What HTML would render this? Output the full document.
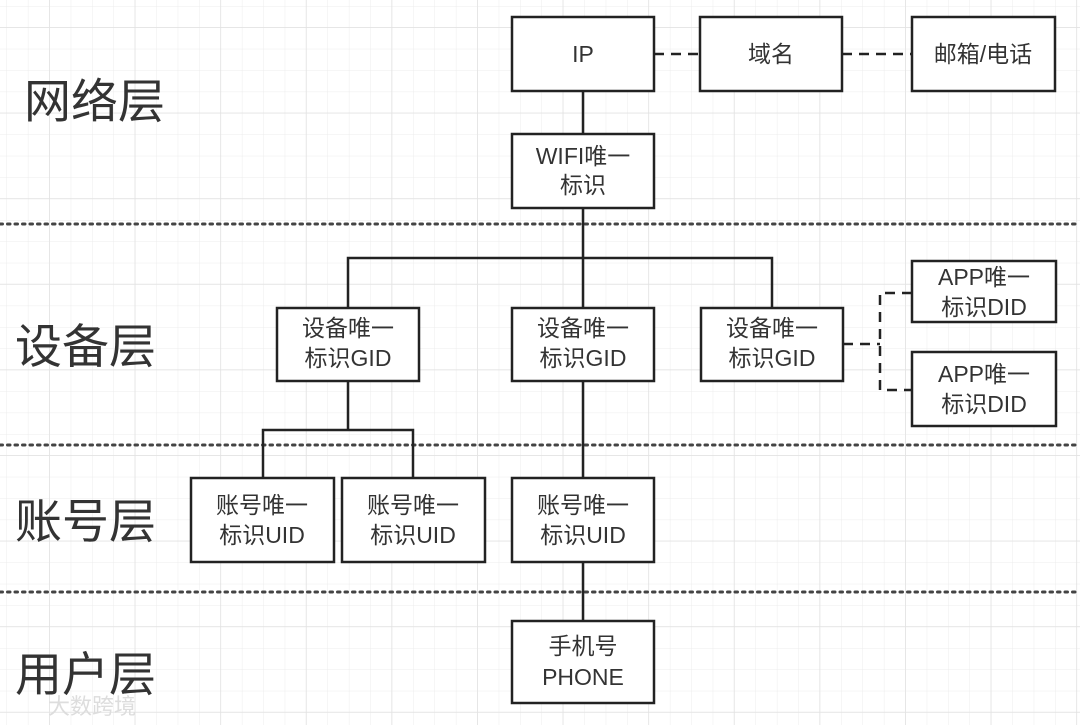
<!DOCTYPE html>
<html><head><meta charset="utf-8"><style>
html,body{margin:0;padding:0;background:#fff}
svg{display:block}
text{font-family:"Liberation Sans","Noto Sans CJK SC",sans-serif;fill:#333}
</style></head><body>
<svg width="1080" height="725" viewBox="0 0 1080 725" xmlns="http://www.w3.org/2000/svg">
<defs>
<pattern id="minor" x="6.5" y="6" width="21.4" height="21.4" patternUnits="userSpaceOnUse">
<path d="M0 0H21.4M0 0V21.4" stroke="#ececec" stroke-width="1" fill="none"/>
</pattern>
<pattern id="major" x="49" y="27" width="85.6" height="85.6" patternUnits="userSpaceOnUse">
<path d="M0 0H85.6M0 0V85.6" stroke="#e2e2e2" stroke-width="1.5" fill="none"/>
</pattern>
</defs>
<rect width="1080" height="725" fill="#fff"/>
<rect width="1080" height="725" fill="url(#minor)"/>
<rect width="1080" height="725" fill="url(#major)"/>

<g stroke="#444" stroke-width="3" stroke-dasharray="2.5 5" stroke-linecap="round">
<line x1="0" y1="224" x2="1080" y2="224"/>
<line x1="0" y1="445" x2="1080" y2="445"/>
<line x1="0" y1="592" x2="1080" y2="592"/>
</g>

<g font-size="47">
<text x="24" y="118">网络层</text>
<text x="15" y="363">设备层</text>
<text x="15" y="538">账号层</text>
<text x="15" y="691">用户层</text>
</g>
<text x="48" y="714" font-size="22" style="fill:#ddd">大数跨境</text>

<g stroke="#222" stroke-width="2.5" fill="none">
<line x1="583" y1="91" x2="583" y2="134"/>
<polyline points="583,208 583,258"/>
<polyline points="348,308 348,258 772,258 772,308"/>
<line x1="583" y1="258" x2="583" y2="308"/>
<polyline points="348,381 348,430"/>
<polyline points="263,478 263,430 413,430 413,478"/>
<line x1="583" y1="381" x2="583" y2="478"/>
<line x1="583" y1="562" x2="583" y2="621"/>
</g>
<g stroke="#222" stroke-width="2.5" fill="none" stroke-dasharray="10 7">
<line x1="654" y1="54" x2="700" y2="54"/>
<line x1="842" y1="54" x2="912" y2="54"/>
<polyline points="843,344 880,344"/>
<polyline points="912,293 880,293 880,390 912,390"/>
</g>

<g stroke="#222" stroke-width="2.5" fill="#fff">
<rect x="512" y="17" width="142" height="74"/>
<rect x="700" y="17" width="142" height="74"/>
<rect x="912" y="17" width="143" height="74"/>
<rect x="512" y="134" width="142" height="74"/>
<rect x="277" y="308" width="142" height="73"/>
<rect x="512" y="308" width="142" height="73"/>
<rect x="701" y="308" width="142" height="73"/>
<rect x="912" y="261" width="144" height="61"/>
<rect x="912" y="352" width="144" height="74"/>
<rect x="191" y="478" width="143" height="84"/>
<rect x="342" y="478" width="143" height="84"/>
<rect x="512" y="478" width="142" height="84"/>
<rect x="512" y="621" width="142" height="82"/>
</g>

<g font-size="23" text-anchor="middle">
<text x="583" y="62">IP</text>
<text x="771" y="62">域名</text>
<text x="983" y="62">邮箱/电话</text>
<text x="583" y="164">WIFI唯一</text>
<text x="583" y="193">标识</text>
<text x="348" y="336">设备唯一</text>
<text x="348" y="366">标识GID</text>
<text x="583" y="336">设备唯一</text>
<text x="583" y="366">标识GID</text>
<text x="772" y="336">设备唯一</text>
<text x="772" y="366">标识GID</text>
<text x="984" y="285">APP唯一</text>
<text x="984" y="315">标识DID</text>
<text x="984" y="382">APP唯一</text>
<text x="984" y="412">标识DID</text>
<text x="262" y="513">账号唯一</text>
<text x="262" y="543">标识UID</text>
<text x="413" y="513">账号唯一</text>
<text x="413" y="543">标识UID</text>
<text x="583" y="513">账号唯一</text>
<text x="583" y="543">标识UID</text>
<text x="583" y="654">手机号</text>
<text x="583" y="685">PHONE</text>
</g>
</svg>
</body></html>
